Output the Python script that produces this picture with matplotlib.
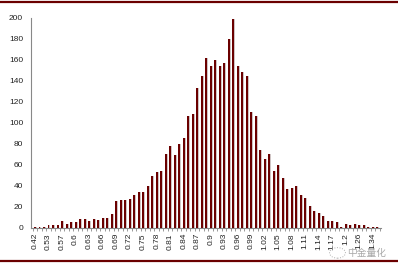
import matplotlib
matplotlib.use('Agg')
import matplotlib.pyplot as plt
from matplotlib.lines import Line2D
import numpy as np

# category values (bin centres) and counts
categories = [0.42, 0.48, 0.51, 0.53, 0.55, 0.56, 0.57, 0.58, 0.59, 0.60,
              0.61, 0.62, 0.63, 0.64, 0.65, 0.66, 0.67, 0.68, 0.69, 0.70,
              0.71, 0.72, 0.73, 0.74, 0.75, 0.76, 0.77, 0.78, 0.79, 0.80,
              0.81, 0.82, 0.83, 0.84, 0.85, 0.86, 0.87, 0.88, 0.89, 0.90,
              0.91, 0.92, 0.93, 0.94, 0.95, 0.96, 0.97, 0.98, 0.99, 1.00,
              1.01, 1.02, 1.03, 1.04, 1.05, 1.06, 1.07, 1.08, 1.09, 1.10,
              1.11, 1.12, 1.13, 1.14, 1.15, 1.16, 1.17, 1.18, 1.19, 1.20,
              1.22, 1.24, 1.26, 1.28, 1.31, 1.34, 1.38]
counts = [1, 1, 1, 2, 2, 2, 6, 3, 5, 5,
          8, 8, 6, 8, 7, 9, 9, 13, 25, 26,
          26, 27, 31, 34, 34, 40, 49, 53, 54, 70,
          78, 69, 80, 85, 106, 108, 133, 145, 162, 154,
          160, 154, 157, 180, 199, 154, 148, 145, 110, 106,
          74, 65, 70, 54, 60, 47, 37, 38, 40, 31,
          28, 21, 16, 14, 11, 6, 6, 5, 1, 3,
          2, 3, 2, 2, 1, 1, 1]
y_ticks = list(range(0, 201, 20))

DARK_RED = '#6b0000'
FONT = 'Liberation Sans'

fig = plt.figure(figsize=(3.98, 2.64), dpi=100)
ax = fig.add_axes([0.079, 0.138, 0.878, 0.794])

x = np.arange(len(categories))
# light shadow behind each bar, then the bar itself
ax.bar(x + 0.22, counts, width=0.42, color='#cfc4c4', zorder=2)
ax.bar(x, counts, width=0.42, color=DARK_RED, zorder=3)

ax.set_xlim(-0.8, len(categories) - 0.2)
ax.set_ylim(0, 200)
ax.set_yticks(y_ticks)
ax.set_yticklabels([str(t) for t in y_ticks], fontsize=6, family=FONT)

# every third category is labelled, tick marks between categories
lab_idx = x[::3]
ax.set_xticks(lab_idx)
ax.set_xticklabels(['%g' % categories[i] for i in lab_idx], rotation=90,
                   fontsize=6, family=FONT)
ax.set_xticks(np.arange(len(categories) + 1) - 0.5, minor=True)
ax.tick_params(axis='x', which='major', length=0, pad=4, colors='#222222')
ax.tick_params(axis='x', which='minor', length=2.5, width=0.6, color='#888888')
ax.tick_params(axis='y', length=0, pad=6, colors='#222222')

for side in ['top', 'right']:
    ax.spines[side].set_visible(False)
for side in ['left', 'bottom']:
    ax.spines[side].set_color('#888888')
    ax.spines[side].set_linewidth(0.8)

# decorative rules at the top and bottom of the figure
fig.add_artist(Line2D([0, 1], [0.992, 0.992], color=DARK_RED, lw=1.6))
fig.add_artist(Line2D([0, 1], [0.01, 0.01], color=DARK_RED, lw=1.6))

# watermark with its round logo, kept just below the tick labels
fig.add_artist(plt.Circle((0.848, 0.042), 0.02, transform=fig.transFigure,
                          fill=False, ec='#b0b0b0', lw=0.7, ls=':'))
fig.text(0.872, 0.042, '中金量化', fontsize=7, color='#9a9a9a', alpha=0.85,
         va='center', family=['Noto Sans CJK SC', 'DejaVu Sans'])

fig.savefig('out.png', dpi=100)
